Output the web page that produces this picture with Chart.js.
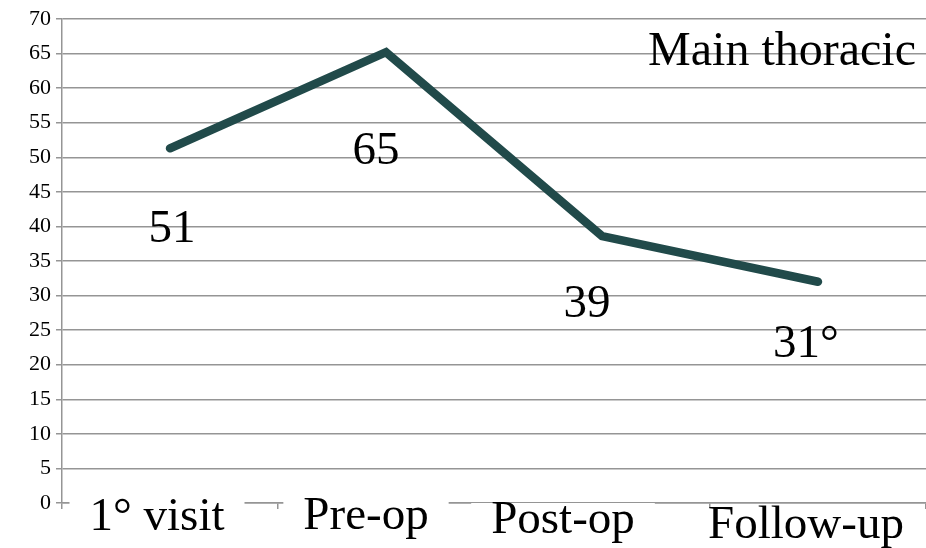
<!DOCTYPE html>
<html>
<head>
<meta charset="utf-8">
<script src="https://cdn.jsdelivr.net/npm/chart.js@4"></script>
<style>
  html, body { margin: 0; padding: 0; background: #fff; }
  #wrap { width: 926px; height: 548px; }
</style>
</head>
<body>
<div id="wrap"><canvas id="c" width="926" height="548"></canvas></div>
<script>
// ---- data ----
const categories = ['1° visit', 'Pre-op', 'Post-op', 'Follow-up'];
const angleValues = [51.3, 65.2, 38.6, 32.0];
const valueLabels = ['51', '65', '39', '31°'];
const yMin = 0;
const yMax = 70;
const yStep = 5;
const seriesTitle = 'Main thoracic';

// ---- styling ----
const SERIF = "'Liberation Serif', 'Times New Roman', serif";
const GRID = '#959595';
const LINE = '#214a4a';

// label placement relative to each point (dx, dy of text centre)
const valueLabelOffsets = [[2, 81], [-10, 99], [-15, 69], [-12, 63]];
// x category label placement relative to category centre (dx, baseline below axis)
const catLabelOffsets = [[-13, 27], [-20, 26], [-39, 30], [-12, 35]];

const overlayPlugin = {
  id: 'overlay',
  afterDraw(chart) {
    const ctx = chart.ctx;
    const xs = chart.scales.x, ys = chart.scales.y;
    const area = chart.chartArea;
    ctx.save();
    ctx.font = '47px ' + SERIF;
    ctx.fillStyle = '#000';

    // category labels with white backdrop (covering axis line)
    ctx.textAlign = 'center';
    ctx.textBaseline = 'alphabetic';
    categories.forEach((c, i) => {
      const x = xs.getPixelForValue(i) + catLabelOffsets[i][0];
      const y = area.bottom + catLabelOffsets[i][1];
      const w = ctx.measureText(c).width;
      ctx.fillStyle = '#fff';
      ctx.fillRect(x - w / 2 - 20, y - 30, w + 40, 45);
      ctx.fillStyle = '#000';
      ctx.fillText(c, x, y);
    });

    // value labels
    ctx.textBaseline = 'middle';
    valueLabels.forEach((t, i) => {
      const x = xs.getPixelForValue(i) + valueLabelOffsets[i][0];
      const y = ys.getPixelForValue(angleValues[i]) + valueLabelOffsets[i][1];
      ctx.fillText(t, x, y);
    });

    // series title at top right
    ctx.textAlign = 'right';
    ctx.textBaseline = 'alphabetic';
    ctx.font = '48px ' + SERIF;
    ctx.fillText(seriesTitle, area.right - 10, area.top + 46);
    ctx.restore();
  }
};

new Chart(document.getElementById('c'), {
  type: 'line',
  data: {
    labels: categories,
    datasets: [{
      data: angleValues,
      borderColor: LINE,
      backgroundColor: LINE,
      borderWidth: 8.5,
      borderCapStyle: 'round',
      borderJoinStyle: 'miter',
      pointRadius: 0,
      tension: 0,
      fill: false
    }]
  },
  options: {
    responsive: false,
    animation: false,
    layout: { padding: { top: 19, left: 24, right: 0, bottom: 39 } },
    plugins: { legend: { display: false }, tooltip: { enabled: false }, title: { display: false } },
    scales: {
      x: {
        offset: true,
        grid: { display: true, drawOnChartArea: false, offset: true, tickLength: 6, color: GRID, lineWidth: 1.5 },
        border: { display: true, color: GRID, width: 1.5 },
        ticks: { display: false }
      },
      y: {
        min: yMin,
        max: yMax,
        ticks: { stepSize: yStep, color: '#000', font: { family: SERIF, size: 22 }, padding: 5 },
        grid: { color: GRID, lineWidth: 1.5, tickLength: 6 },
        border: { display: true, color: GRID, width: 1.5 }
      }
    }
  },
  plugins: [overlayPlugin]
});
</script>
</body>
</html>
